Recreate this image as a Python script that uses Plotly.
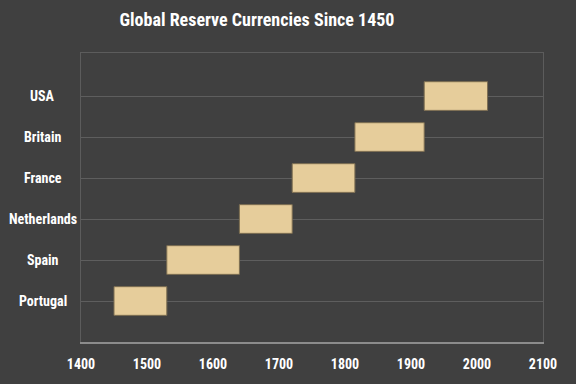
import plotly.graph_objects as go

countries = ["Portugal", "Spain", "Netherlands", "France", "Britain", "USA"]
start_year = [1450, 1530, 1640, 1720, 1815, 1920]
end_year = [1530, 1640, 1720, 1815, 1920, 2016]
x_ticks = [1400, 1500, 1600, 1700, 1800, 1900, 2000, 2100]

durations = [e - s for s, e in zip(start_year, end_year)]
ypos = list(range(len(countries)))

FONT = "Liberation Sans Narrow, Roboto Condensed, Arial Narrow, Liberation Sans, sans-serif"
BG = "#404040"

fig = go.Figure(go.Bar(
    y=ypos, x=durations, base=start_year, orientation="h",
    width=0.7,
    marker=dict(color="#E6CD9B", line=dict(color="#7d6e52", width=1)),
    hoverinfo="skip",
))

annotations = [
    dict(x=-0.083, xref="paper", y=y, yref="y", text=f"<b>{c}</b>",
         showarrow=False, xanchor="center", yanchor="middle",
         font=dict(family=FONT, size=14, color="white"))
    for y, c in zip(ypos, countries)
]

fig.update_layout(
    width=576, height=384,
    paper_bgcolor=BG, plot_bgcolor=BG,
    margin=dict(l=81, r=33, t=53, b=42, autoexpand=False),
    showlegend=False,
    title=dict(text="<b>Global Reserve Currencies Since 1450</b>",
               x=257 / 576, xanchor="center", y=1 - 20 / 384, yanchor="middle",
               font=dict(family=FONT, size=18, color="white")),
    annotations=annotations,
    xaxis=dict(range=[1400, 2100], tickvals=x_ticks, ticktext=[f"<b>{t}</b>" for t in x_ticks],
               showgrid=False, zeroline=False,
               showline=True, linecolor="#8c8c8c", linewidth=2, mirror=False,
               ticks="", ticklabelstandoff=8, automargin=False,
               tickfont=dict(family=FONT, size=14, color="white")),
    xaxis2=dict(overlaying="x", side="top", range=[1400, 2100], showticklabels=False,
                showgrid=False, zeroline=False, showline=True, linecolor="#5c5c5c", linewidth=1),
    yaxis=dict(range=[-1, 6.05], tickvals=ypos, showticklabels=False, automargin=False,
               showgrid=True, gridcolor="#5e5e5e", gridwidth=1, zeroline=False,
               showline=True, linecolor="#5c5c5c", linewidth=1, mirror=True, ticks=""),
)
fig.add_trace(go.Scatter(x=[None], y=[None], xaxis="x2", showlegend=False))

fig.write_html(
    "out.html",
    config={"displayModeBar": False},
    post_script="document.body.style.margin='0';document.body.style.background='#404040';",
)
